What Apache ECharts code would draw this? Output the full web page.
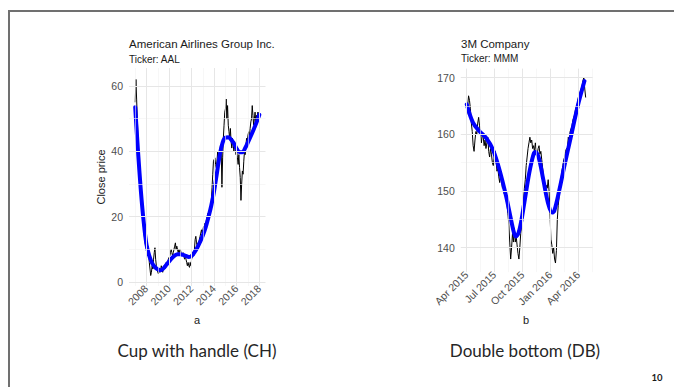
<!DOCTYPE html>
<html><head><meta charset="utf-8">
<script src="https://cdn.jsdelivr.net/npm/echarts@6/dist/echarts.min.js"></script>
<style>
html,body{margin:0;padding:0;background:#fff;overflow:hidden;width:674px;height:387px;}
#frame{position:absolute;left:8px;top:10px;width:664px;height:375px;border-left:2px solid #707070;border-top:2px solid #707070;}
#chart{position:absolute;left:0;top:0;width:674px;height:387px;}
</style></head><body>
<div id="frame"></div>
<div id="chart"></div>
<script>
// ---------- Panel a: American Airlines (AAL) ----------
const aalTitle = 'American Airlines Group Inc.';
const aalSubtitle = 'Ticker: AAL';
const aalXTicks = [2008, 2010, 2012, 2014, 2016, 2018];
const aalXMinor = [2007, 2009, 2011, 2013, 2015, 2017];
const aalYTicks = [0, 20, 40, 60];
const aalYMinor = [10, 30, 50];
const aalStartYear = 2007.0;
const aalStepYear = 1 / 16;
const aalClose = [
  55, 62, 56, 50, 44, 38, 31, 28, 26, 23, 20, 19, 16, 14, 12, 11,
  10, 8, 11, 9, 6, 4, 2, 3, 5, 4, 7, 9, 10.5, 7, 5, 4,
  3, 2.5, 4, 3, 3.5, 5, 4, 3, 4, 5, 4, 5.5, 6, 5, 6, 7,
  7, 8, 9, 10, 9, 8, 9, 10, 11, 12, 10, 11, 10, 9, 10, 9,
  10, 9, 9, 8, 9, 8, 7, 8, 7, 6, 5, 6, 5, 4.5, 6, 5,
  7, 8, 9, 8, 10, 13, 14, 12, 11, 12, 11, 13, 14, 15, 16, 15,
  16, 17, 16, 18, 17, 19, 20, 21, 19, 21, 23, 22, 25, 29, 33, 37,
  37, 38, 36, 35, 37, 40, 38, 36, 39, 42, 40, 29, 38, 44, 48, 52,
  53, 56, 50, 54, 48, 46, 44, 47, 43, 41, 44, 42, 40, 43, 41, 39,
  40, 38, 36, 39, 35, 32, 25, 30, 34, 33, 37, 40, 39, 42, 44, 43,
  45, 46, 44, 47, 49, 50, 54, 51, 48, 50, 52, 49, 51, 50, 52, 51,
  52
];
const aalSmoothYears = [
  2007.0, 2007.25, 2007.5, 2007.75, 2008.0, 2008.25, 2008.5, 2008.75,
  2009.0, 2009.25, 2009.5, 2009.75, 2010.0, 2010.25, 2010.5, 2010.75,
  2011.0, 2011.25, 2011.5, 2011.75, 2012.0, 2012.25, 2012.5, 2012.75,
  2013.0, 2013.25, 2013.5, 2013.75, 2014.0, 2014.25, 2014.5, 2014.75,
  2015.0, 2015.25, 2015.5, 2015.75, 2016.0, 2016.25, 2016.5, 2016.75,
  2017.0, 2017.25, 2017.5, 2017.75, 2018.0
];
const aalSmooth = [
  53.5, 40, 28, 18.5, 11.5, 8, 5.8, 4.6,
  3.9, 3.6, 4.2, 5.2, 6.3, 7.3, 8.1, 8.5,
  8.5, 8.3, 8.0, 7.7, 8.0, 9.1, 10.5, 12.3,
  14.3, 16.8, 20, 23.5, 28, 33.5, 39, 42.7,
  44.2, 44.3, 43.6, 42.4, 40.8, 39.7, 39.7, 41,
  42.8, 44.7, 46.7, 48.8, 51.2
];

// ---------- Panel b: 3M Company (MMM) ; x = days since 1 Apr 2015 ----------
const mmmTitle = '3M Company';
const mmmSubtitle = 'Ticker: MMM';
const mmmXTickDays = [0, 91, 183, 275, 366];
const mmmXTickLabels = ['Apr 2015', 'Jul 2015', 'Oct 2015', 'Jan 2016', 'Apr 2016'];
const mmmXMinorDays = [45.5, 137, 229, 320.5, 411.5];
const mmmYTicks = [140, 150, 160, 170];
const mmmYMinor = [145, 155, 165];
const mmmStartDay = 0;
const mmmStepDays = 3;
const mmmClose = [
  163.5, 165, 166.8, 166, 164.5, 162, 160.5, 158, 157, 159,
  160.5, 160, 162, 163, 161.5, 160, 158.5, 160, 159.5, 158,
  159, 157.5, 158.5, 159.5, 157, 156, 157.5, 156.5, 155, 154.5,
  156, 157, 155.5, 153.5, 154, 152.5, 151.5, 153, 152, 150.5,
  151, 149.5, 150, 148.5, 147.5, 146, 144, 141, 138, 140,
  142.5, 141, 143.5, 141, 142, 140.5, 139, 138, 140, 142.5,
  144, 146.5, 148, 150.5, 152, 154.5, 156, 157.5, 158.5, 159.5,
  158.5, 159, 157.5, 158, 157, 158.5, 157, 156.5, 157.5, 158,
  156.5, 157, 155.5, 154, 152.5, 151, 150, 151, 150.5, 152,
  150, 146, 141.5, 140.5, 139, 140, 138, 137.3, 139.5, 145,
  147.5, 149, 151, 152, 153.5, 154.5, 155.5, 156, 157, 157.5,
  157.5, 159.5, 158.5, 160.5, 161, 161.5, 162.5, 163, 163.5, 164.5,
  165, 165.5, 166.5, 167, 167.5, 168, 168.5, 169.5, 170, 168,
  166.5
];
const mmmSmoothDays = [0, 20, 41, 63, 85, 107, 129, 145, 156, 162, 173, 189, 205,
  219, 225, 236, 251, 266, 280, 287, 304, 320, 342, 364, 386];
const mmmSmooth = [165.3, 162.1, 160.6, 159.4, 157.4, 153.8, 149.1, 145, 142.4, 142, 143.2, 148, 153.2,
  156.5, 156.9, 155.9, 152, 148, 146.2, 146.5, 150.3, 154.4, 159.7, 165, 169.4];

// ---------- captions ----------
const captionA = 'Cup with handle (CH)';
const captionB = 'Double bottom (DB)';
const pageNumber = '10';

// ---------- build ----------
const aalCloseData = aalClose.map((v, i) => [aalStartYear + i * aalStepYear, v]);
const aalSmoothData = aalSmooth.map((v, i) => [aalSmoothYears[i], v]);
const mmmCloseData = mmmClose.map((v, i) => [mmmStartDay + i * mmmStepDays, v]);
const mmmSmoothData = mmmSmooth.map((v, i) => [mmmSmoothDays[i], v]);

const MAJOR = { color: '#e6e6e6', width: 1, type: 'solid' };
const MINOR = { color: '#f1f1f1', width: 0.6, type: 'solid' };
function gridLines(xMaj, xMin, yMaj, yMin) {
  const d = [];
  xMin.forEach(v => d.push({ xAxis: v, lineStyle: MINOR }));
  yMin.forEach(v => d.push({ yAxis: v, lineStyle: MINOR }));
  xMaj.forEach(v => d.push({ xAxis: v, lineStyle: MAJOR }));
  yMaj.forEach(v => d.push({ yAxis: v, lineStyle: MAJOR }));
  return d;
}
function gridSeries(idx, data) {
  return {
    type: 'line', xAxisIndex: idx, yAxisIndex: idx, data: [], z: 1, silent: true,
    markLine: { silent: true, symbol: ['none', 'none'], label: { show: false },
      emphasis: { disabled: true }, animation: false, data: data }
  };
}

const FONT = '"Liberation Sans", Arial, sans-serif';
const axisText = { color: '#4d4d4d', fontSize: 10.5, fontFamily: FONT };
const xLabelShift = { rotate: 45, margin: 1, padding: [26, 0, 0, 0] };

const chart = echarts.init(document.getElementById('chart'), null, { renderer: 'svg' });
chart.setOption({
  animation: false,
  backgroundColor: 'transparent',
  grid: [
    { left: 129, top: 68, width: 136.5, height: 218 },
    { left: 460.8, top: 68.6, width: 131.9, height: 203.5 }
  ],
  xAxis: [
    { gridIndex: 0, type: 'value', min: 2006.45, max: 2018.55,
      axisLine: { show: false }, axisTick: { show: false }, splitLine: { show: false },
      axisLabel: Object.assign({ customValues: aalXTicks, formatter: v => String(v) }, xLabelShift, axisText) },
    { gridIndex: 1, type: 'value', min: -19.5, max: 413,
      axisLine: { show: false }, axisTick: { show: false }, splitLine: { show: false },
      axisLabel: Object.assign({ customValues: mmmXTickDays,
        formatter: v => mmmXTickLabels[mmmXTickDays.indexOf(v)] || '' }, xLabelShift, axisText) }
  ],
  yAxis: [
    { gridIndex: 0, type: 'value', min: -1.2, max: 65.5,
      axisLine: { show: false }, axisTick: { show: false }, splitLine: { show: false },
      axisLabel: Object.assign({ customValues: aalYTicks, margin: 6, formatter: v => String(v) }, axisText) },
    { gridIndex: 1, type: 'value', min: 135.7, max: 171.6,
      axisLine: { show: false }, axisTick: { show: false }, splitLine: { show: false },
      axisLabel: Object.assign({ customValues: mmmYTicks, margin: 6, formatter: v => String(v) }, axisText) }
  ],
  series: [
    gridSeries(0, gridLines(aalXTicks, aalXMinor, aalYTicks, aalYMinor)),
    gridSeries(1, gridLines(mmmXTickDays, mmmXMinorDays, mmmYTicks, mmmYMinor)),
    { type: 'line', xAxisIndex: 0, yAxisIndex: 0, data: aalCloseData, z: 2, symbol: 'none',
      lineStyle: { color: '#000', width: 1 }, silent: true },
    { type: 'line', xAxisIndex: 0, yAxisIndex: 0, data: aalSmoothData, z: 3, symbol: 'none',
      smooth: 0.35, lineStyle: { color: '#0000ff', width: 4, cap: 'round' }, silent: true },
    { type: 'line', xAxisIndex: 1, yAxisIndex: 1, data: mmmCloseData, z: 2, symbol: 'none',
      lineStyle: { color: '#000', width: 1 }, silent: true },
    { type: 'line', xAxisIndex: 1, yAxisIndex: 1, data: mmmSmoothData, z: 3, symbol: 'none',
      smooth: 0.35, lineStyle: { color: '#0000ff', width: 4, cap: 'round' }, silent: true }
  ],
  graphic: [
    { type: 'text', x: 129, y: 44, style: { text: aalTitle, font: '11.5px ' + FONT, fill: '#1a1a1a', align: 'left', verticalAlign: 'middle' } },
    { type: 'text', x: 129, y: 59, style: { text: aalSubtitle, font: '10px ' + FONT, fill: '#1a1a1a', align: 'left', verticalAlign: 'middle' } },
    { type: 'text', x: 461, y: 44, style: { text: mmmTitle, font: '11.5px ' + FONT, fill: '#1a1a1a', align: 'left', verticalAlign: 'middle' } },
    { type: 'text', x: 461, y: 58, style: { text: mmmSubtitle, font: '10px ' + FONT, fill: '#1a1a1a', align: 'left', verticalAlign: 'middle' } },
    { type: 'text', x: 101, y: 177, rotation: Math.PI / 2, style: { text: 'Close price', font: '11px ' + FONT, fill: '#1a1a1a', align: 'center', verticalAlign: 'middle' } },
    { type: 'text', x: 197, y: 320, style: { text: 'a', font: '11px ' + FONT, fill: '#1a1a1a', align: 'center', verticalAlign: 'middle' } },
    { type: 'text', x: 526, y: 320, style: { text: 'b', font: '11px ' + FONT, fill: '#1a1a1a', align: 'center', verticalAlign: 'middle' } },
    { type: 'text', x: 197, y: 350, style: { text: captionA, font: '17px Lato, "Open Sans", sans-serif', fill: '#262626', align: 'center', verticalAlign: 'middle' } },
    { type: 'text', x: 525, y: 350, style: { text: captionB, font: '17px Lato, "Open Sans", sans-serif', fill: '#262626', align: 'center', verticalAlign: 'middle' } },
    { type: 'text', x: 657, y: 377, style: { text: pageNumber, font: 'bold 9.5px Lato, sans-serif', fill: '#1a1a1a', align: 'center', verticalAlign: 'middle' } }
  ]
});
</script></body></html>
